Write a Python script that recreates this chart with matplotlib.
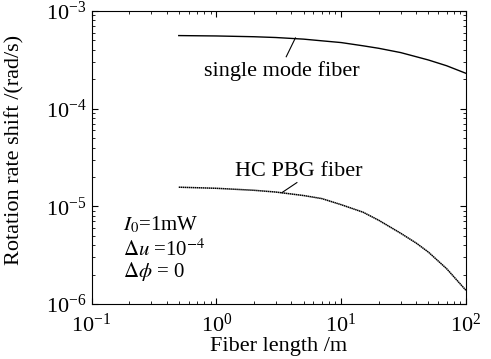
import numpy as np
import matplotlib
matplotlib.use("Agg")
import matplotlib.pyplot as plt

plt.rcParams['font.family'] = ['Liberation Serif', 'DejaVu Serif']
plt.rcParams['mathtext.fontset'] = 'stix'

# 读图得到的数据
length = [0.5, 1, 2, 3, 5, 7, 10, 15, 20, 30, 40, 50, 70, 100]
smf_shift = [5.6e-4, 5.55e-4, 5.45e-4, 5.35e-4, 5.15e-4, 4.95e-4, 4.75e-4,
             4.4e-4, 4.15e-4, 3.75e-4, 3.4e-4, 3.15e-4, 2.75e-4, 2.3e-4]
pbg_shift = [1.57e-5, 1.53e-5, 1.46e-5, 1.40e-5, 1.29e-5, 1.20e-5, 1.04e-5,
             8.7e-6, 7.2e-6, 5.3e-6, 4.2e-6, 3.4e-6, 2.3e-6, 1.38e-6]

fig = plt.figure(figsize=(4.91, 3.59), dpi=100)
ax = fig.add_axes([0.1864, 0.1532, 0.7626, 0.8162])

ax.plot(length, smf_shift, color='black', lw=1.0)
ax.plot(length, pbg_shift, color='black', lw=1.1, linestyle=(0, (1, 0.3)))

ax.set_xscale('log')
ax.set_yscale('log')
ax.set_xlim(0.1, 100)
ax.set_ylim(1e-6, 1e-3)

ax.tick_params(which='both', direction='in', top=True, right=True, labelsize=16)
ax.tick_params(which='major', length=4)
ax.tick_params(which='minor', length=2)
ax.tick_params(axis='x', pad=7)

ax.set_xlabel('Fiber length /m', fontsize=16, labelpad=0)
ax.set_ylabel('Rotation rate shift /(rad/s)', fontsize=16)
ax.yaxis.set_label_coords(-0.18, 0.526)

# 曲线标注
ax.text(3.34, 2.42e-4, 'single mode fiber', fontsize=16, ha='center', va='center')
ax.plot([3.63, 4.3], [3.4e-4, 5.3e-4], color='black', lw=0.8)
ax.text(4.6, 2.26e-5, 'HC PBG fiber', fontsize=16, ha='center', va='center')
ax.plot([4.42, 3.35], [1.75e-5, 1.38e-5], color='black', lw=0.8)

ax.text(0.178, 6.44e-6, r'$I_0$=1mW', fontsize=15, va='center')
ax.text(0.178, 3.57e-6, r'$\Delta u$ =10$^{-4}$', fontsize=15, va='center')
ax.text(0.178, 2.14e-6, r'$\Delta\phi$ = 0', fontsize=15, va='center')

fig.savefig('out.png', dpi=100)
